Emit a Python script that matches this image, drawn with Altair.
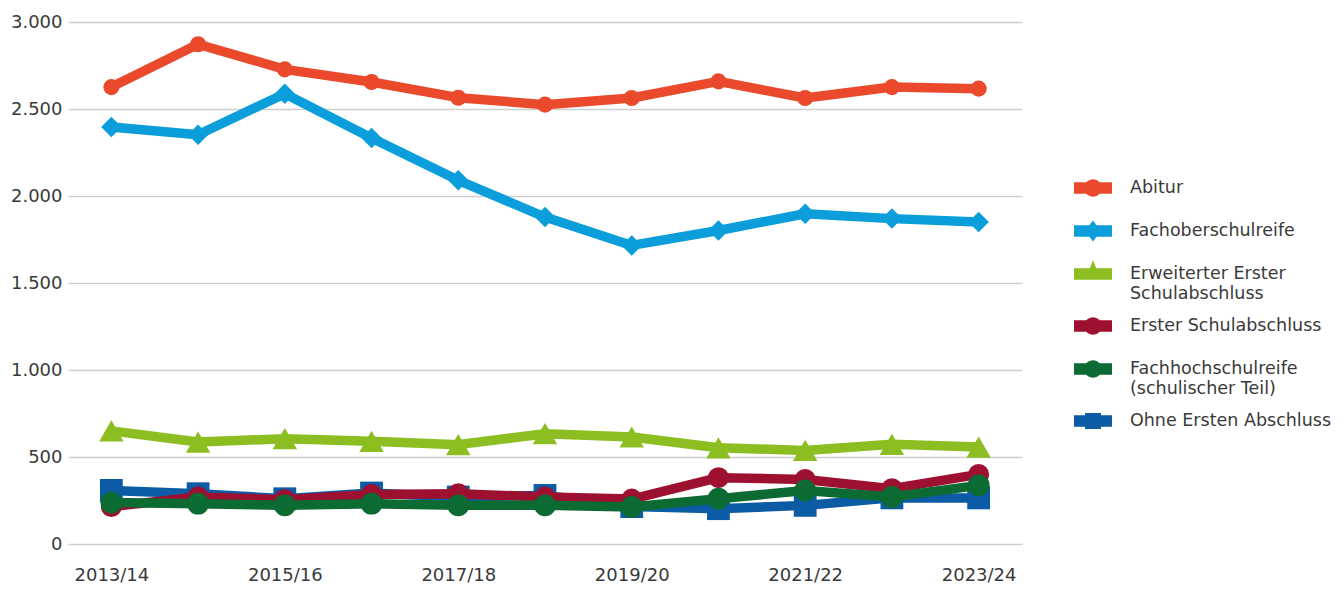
import altair as alt
import pandas as pd

years = ["2013/14", "2014/15", "2015/16", "2016/17", "2017/18", "2018/19",
         "2019/20", "2020/21", "2021/22", "2022/23", "2023/24"]
year_ticks = years[::2]

series = ["Abitur", "Fachoberschulreife", "Erweiterter Erster Schulabschluss",
          "Erster Schulabschluss", "Fachhochschulreife (schulischer Teil)",
          "Ohne Ersten Abschluss"]

abitur = [2626, 2872, 2728, 2655, 2565, 2525, 2563, 2659, 2563, 2626, 2617]
fachober = [2397, 2352, 2588, 2333, 2090, 1879, 1716, 1802, 1898, 1870, 1851]
erweitert = [650, 586, 605, 590, 571, 634, 615, 553, 538, 573, 557]
erster = [215, 270, 255, 285, 289, 270, 258, 381, 371, 318, 400]
fhr = [238, 232, 222, 232, 222, 222, 213, 260, 308, 270, 337]
ohne = [308, 289, 260, 293, 270, 279, 215, 203, 222, 265, 265]
values = [abitur, fachober, erweitert, erster, fhr, ohne]

colors = ["#EA4A2B", "#0B9EDB", "#8CBE22", "#9E1030", "#0C6A33", "#0B5BA5"]
shapes = ["circle", "diamond", "triangle-up", "circle", "circle", "square"]
sizes = [260, 420, 600, 440, 480, 520]

# legend symbols: thick bar with the marker on it (plus an invisible
# vertical stroke so that every entry gets the same height)
bar = "M0,-1L0,1Z M-1,-0.3H1V0.3H-1Z "
circ = "M-0.46,0A0.46,0.46 0 1,1 0.46,0A0.46,0.46 0 1,1 -0.46,0Z"
legend_paths = [
    bar + circ,
    bar + "M0,-0.55L0.42,0L0,0.55L-0.42,0Z",
    bar + "M0,-0.72L0.42,0.3L-0.42,0.3Z",
    bar + circ,
    bar + circ,
    bar + "M-0.42,-0.42H0.42V0.42H-0.42Z",
]

draw_order = [5, 3, 4, 2, 1, 0]

rows = []
for s, vals in zip(series, values):
    for y, v in zip(years, vals):
        rows.append({"year": y, "series": s, "value": v})
df = pd.DataFrame(rows)

FONT = "DejaVu Sans"
TEXT = "#3a3a3a"

x_enc = alt.X("year:O", title=None,
              scale=alt.Scale(type="point", padding=0.5, domain=years),
              axis=alt.Axis(values=year_ticks, labelAngle=0, ticks=False, domain=False,
                            grid=False, labelFont=FONT, labelFontSize=18,
                            labelColor=TEXT, labelPadding=22))
y_enc = alt.Y("value:Q", title=None,
              scale=alt.Scale(domain=[0, 3000], nice=False),
              axis=alt.Axis(values=[0, 500, 1000, 1500, 2000, 2500, 3000],
                            ticks=False, domain=False, grid=True,
                            gridColor="#cfcfcf", gridWidth=1.5,
                            labelFont=FONT, labelFontSize=18, labelColor=TEXT,
                            labelPadding=6,
                            labelExpr="replace(format(datum.value, ','), ',', '.')"))

color_scale = alt.Scale(domain=series, range=colors)
shape_scale = alt.Scale(domain=series, range=legend_paths)
base = alt.Chart(df)

label_expr = ("datum.label == 'Erweiterter Erster Schulabschluss' ? ['Erweiterter Erster', 'Schulabschluss'] : "
              "datum.label == 'Fachhochschulreife (schulischer Teil)' ? ['Fachhochschulreife', '(schulischer Teil)'] : "
              "datum.label")

leg = alt.Legend(title=None, orient="none", legendX=1006, legendY=147,
                 symbolSize=1444, symbolStrokeWidth=0, symbolOpacity=1,
                 labelFont=FONT, labelFontSize=17.5, labelColor=TEXT,
                 labelOffset=18, labelLimit=0, rowPadding=5,
                 labelExpr=label_expr)

# legend carrier (invisible marks): colour + composite line/marker symbol
carrier = base.mark_point(filled=True, opacity=0).encode(
    x=x_enc, y=y_enc,
    color=alt.Color("series:N", scale=color_scale, legend=leg),
    shape=alt.Shape("series:N", scale=shape_scale, legend=leg),
)

layers = [carrier]
for i in draw_order:
    s = series[i]
    sub = base.transform_filter(alt.datum.series == s)
    line = sub.mark_line(strokeWidth=9.5, strokeJoin="round").encode(
        x=x_enc, y=y_enc,
        color=alt.Color("series:N", scale=color_scale))
    pts = sub.mark_point(shape=shapes[i], filled=True, size=sizes[i], opacity=1).encode(
        x=x_enc, y=y_enc,
        color=alt.Color("series:N", scale=color_scale))
    layers += [line, pts]

chart = alt.layer(*layers).properties(
    width=954, height=522,
    autosize=alt.AutoSizeParams(type="none"),
    padding={"left": 60, "top": 14, "right": 314, "bottom": 41},
).configure_view(stroke=None)

chart.save("out.html", embed_options={"renderer": "svg", "actions": False})
